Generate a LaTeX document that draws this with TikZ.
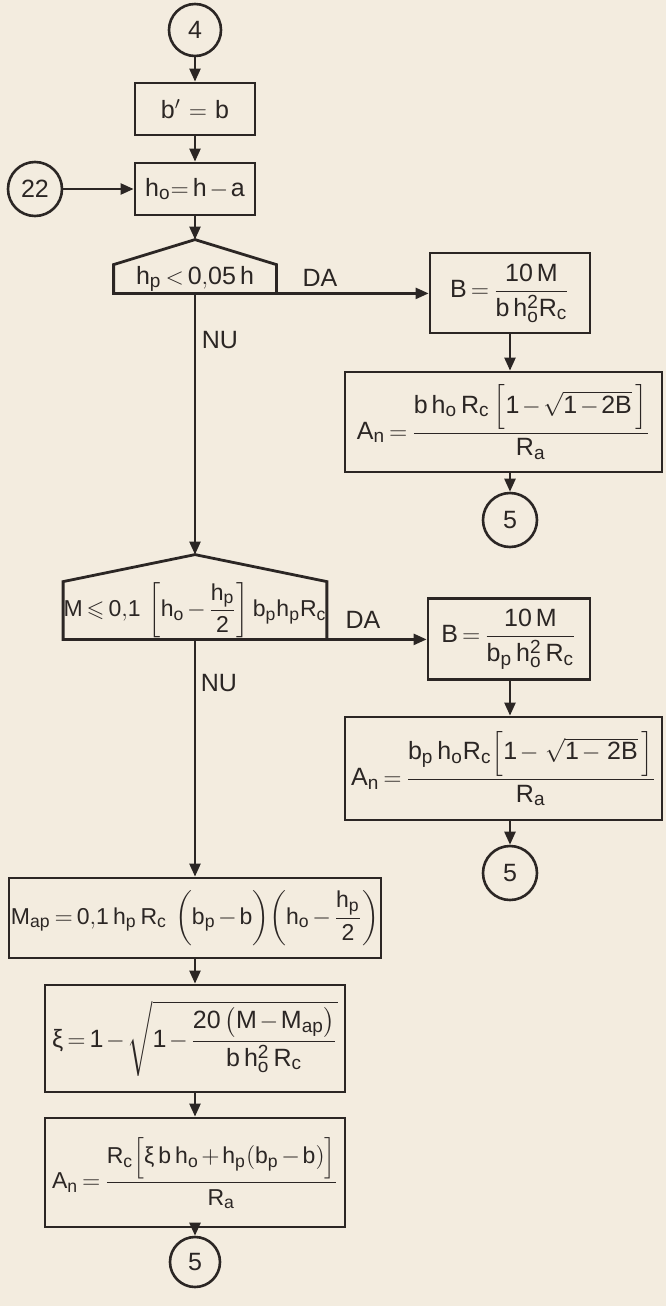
\documentclass[tikz,border=0pt]{standalone}
\usepackage{amsmath,amssymb}
\usepackage{fontspec}
\setmainfont{Liberation Sans}
\usetikzlibrary{positioning,calc,arrows.meta}
\definecolor{paper}{HTML}{F3ECDF}
\definecolor{ink}{HTML}{2B2624}
\newcommand{\px}{0.5pt}
\DeclareMathSizes{12.5}{12.5}{9.5}{7.5}
\DeclareMathSizes{11.5}{11.5}{8.8}{7}
\medmuskip=2mu plus 1mu
\thickmuskip=3mu plus 1mu

\begin{document}
\begin{tikzpicture}[x=0.5pt,y=-0.5pt,
  every node/.style={font=\fontsize{12.5}{15}\selectfont, text=ink},
  box/.style={draw=ink, line width=1.4pt, inner sep=0pt},
  test/.style={inner sep=0pt},
  wide/.style={font=\fontsize{11.5}{14}\selectfont},
  conn/.style={draw=ink, circle, line width=1.3pt, inner sep=0pt, minimum size=#1*\px},
  flow/.style={draw=ink, line width=1.2pt, -{Triangle[length=6.5pt,width=5.5pt]}},
  lbl/.style={font=\fontsize{12.5}{15}\selectfont}]
\fill[paper] (0,0) rectangle (666,1306);
\useasboundingbox (0,0) rectangle (666,1306);

% main column
\node[conn=52] (c4) at (195,30) {4};
\node[box, minimum width=120*\px, minimum height=52*\px] (bb) at (195,109) {$\mathrm{b}' \;=\; \mathrm{b}$};
\node[box, minimum width=120*\px, minimum height=52*\px] (ho) at (195,189) {$\mathrm{h_o}\!= \mathrm{h}-\mathrm{a}$};
\node[conn=54] (c22) at (35,189) {22};

\node[test, minimum width=162*\px, minimum height=28*\px] (d1) at (195,279) {$\mathrm{h_p} < \mathrm{0{,}05\,h}$};
\coordinate (d1top) at ($(d1.north)+(0,-25)$);
\draw[box] (d1.south west) -- (d1.north west) -- (d1top) -- (d1.north east) -- (d1.south east) -- cycle;

\node[test, wide, minimum width=261*\px, minimum height=57*\px] (d2) at (195,610.5)
  {$\mathrm{M}\leqslant\mathrm{0{,}1}\,\left[\mathrm{h_o}-\dfrac{\mathrm{h_p}}{\mathrm{2}}\right]\mathrm{b_p h_p R_c}$};
\coordinate (d2top) at ($(d2.north)+(0,-27)$);
\draw[box] (d2.south west) -- (d2.north west) -- (d2top) -- (d2.north east) -- (d2.south east) -- cycle;

\node[box, wide, minimum width=372*\px, minimum height=80*\px] (Map) at (195,918)
  {$\mathrm{M_{ap}} = \mathrm{0{,}1\,h_p\,R_c}\;\left(\mathrm{b_p}-\mathrm{b}\vphantom{\dfrac{h}{2}}\right)\!\left(\mathrm{h_o}-\dfrac{\mathrm{h_p}}{\mathrm{2}}\right)$};
\node[box, minimum width=300*\px, minimum height=107*\px] (xi) at (195,1038.5)
  {$\text{ξ} = \mathrm{1} - \sqrt{\mathrm{1} - \dfrac{\mathrm{20}\left(\mathrm{M}-\mathrm{M_{ap}}\right)}{\mathrm{b\,h_o^2\,R_c}}}$};
\node[box, wide, minimum width=300*\px, minimum height=109*\px] (A3) at (195,1172.5)
  {$\mathrm{A_n} = \dfrac{\mathrm{R_c}\Bigl[\text{ξ}\,\mathrm{b\,h_o} + \mathrm{h_p}(\mathrm{b_p}-\mathrm{b})\Bigr]}{\mathrm{R_a}}$};
\node[conn=50] (c5c) at (195,1262) {5};

% DA branches
\node[box, minimum width=160*\px, minimum height=80*\px] (B1) at (510,293)
  {$\mathrm{B} = \dfrac{\mathrm{10\,M}}{\mathrm{b\,h_o^2R_c}}$};
\node[box, minimum width=317*\px, minimum height=100*\px] (A1) at (503.5,422)
  {$\mathrm{A_n} = \dfrac{\mathrm{b\,h_o\,R_c}\,\Bigl[\mathrm{1}-\sqrt{\mathrm{1-2B}}\;\Bigr]}{\mathrm{R_a}}$};
\node[conn=54] (c5a) at (510,520) {5};

\node[box, minimum width=162*\px, minimum height=81*\px] (B2) at (509,639)
  {$\mathrm{B} = \dfrac{\mathrm{10\,M}}{\mathrm{b_p\,h_o^2\,R_c}}$};
\node[box, minimum width=317*\px, minimum height=103*\px] (A2) at (503.5,768.5)
  {$\mathrm{A_n} = \dfrac{\mathrm{b_p\,h_o R_c}\Bigl[\mathrm{1}-\;\sqrt{\mathrm{1-\,2B}}\;\Bigr]}{\mathrm{R_a}}$};
\node[conn=54] (c5b) at (510,873) {5};

\node[lbl] (da1) at (320,278) {DA};
\node[lbl] (nu1) at (220,340) {NU};
\node[lbl] (da2) at (363,620) {DA};
\node[lbl] (nu2) at (219,683) {NU};

\draw[flow] (c4) -- (bb);
\draw[flow] (bb) -- (ho);
\draw[flow] (c22) -- (ho);
\draw[flow] (ho) -- (d1top);
\draw[flow] (d1.south east) -- (d1.south east -| B1.west);
\draw[flow] (B1.south -| c5a) -- (c5a |- A1.north);
\draw[flow] (A1.south -| c5a) -- (c5a);
\draw[flow] (d1.south) -- (d2top);
\draw[flow] (d2.south east) -- (d2.south east -| B2.west);
\draw[flow] (B2.south -| c5b) -- (c5b |- A2.north);
\draw[flow] (A2.south -| c5b) -- (c5b);
\draw[flow] (d2.south) -- (Map);
\draw[flow] (Map) -- (xi);
\draw[flow] (xi) -- (A3);
\draw[flow] (A3) -- (c5c);
\end{tikzpicture}
\end{document}
